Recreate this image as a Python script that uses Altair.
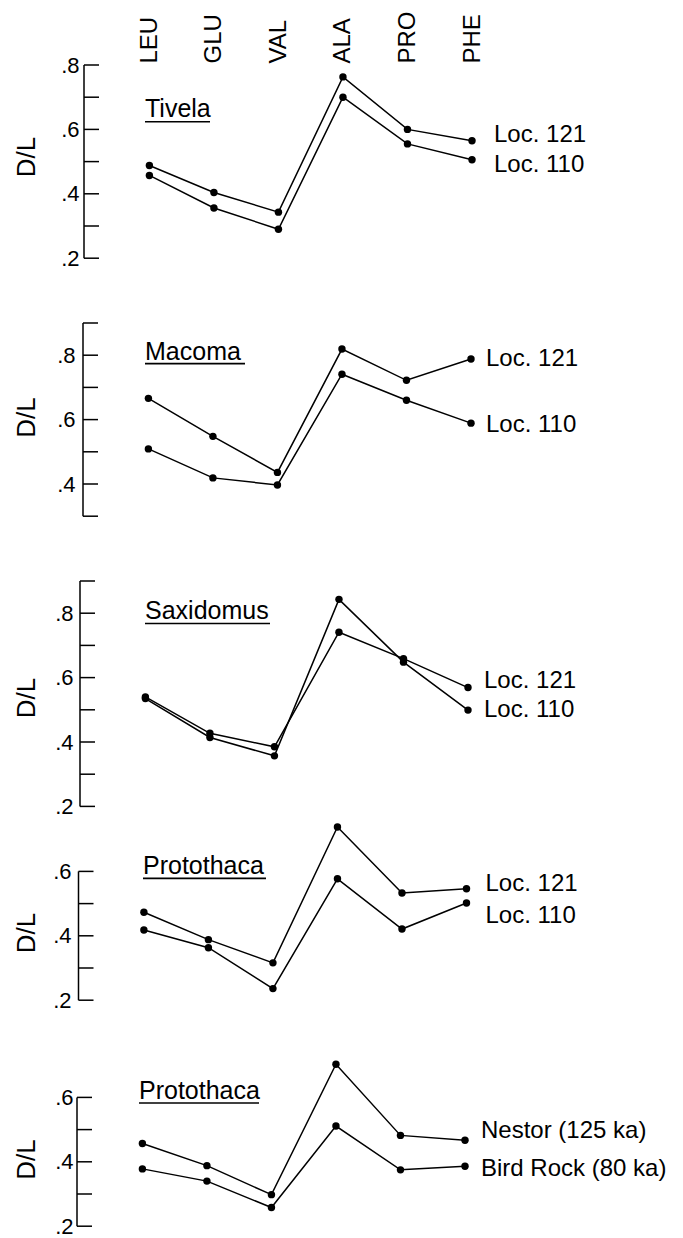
import altair as alt
import pandas as pd

AMINO = ["LEU", "GLU", "VAL", "ALA", "PRO", "PHE"]

# D/L values, in AMINO order
tivela_121 = [0.488, 0.404, 0.343, 0.763, 0.600, 0.565]
tivela_110 = [0.457, 0.356, 0.290, 0.700, 0.555, 0.506]

macoma_121 = [0.666, 0.548, 0.436, 0.819, 0.722, 0.788]
macoma_110 = [0.509, 0.419, 0.397, 0.741, 0.660, 0.589]

saxidomus_121 = [0.540, 0.427, 0.385, 0.741, 0.659, 0.569]
saxidomus_110 = [0.535, 0.414, 0.357, 0.843, 0.648, 0.499]

protothaca_121 = [0.473, 0.388, 0.316, 0.738, 0.533, 0.546]
protothaca_110 = [0.418, 0.363, 0.236, 0.577, 0.421, 0.502]

nestor_125 = [0.457, 0.388, 0.298, 0.703, 0.482, 0.467]
birdrock_80 = [0.378, 0.340, 0.258, 0.511, 0.375, 0.386]

titles = ["Tivela", "Macoma", "Saxidomus", "Protothaca", "Protothaca"]
series_names = [
    ["Loc. 121", "Loc. 110"],
    ["Loc. 121", "Loc. 110"],
    ["Loc. 121", "Loc. 110"],
    ["Loc. 121", "Loc. 110"],
    ["Nestor (125 ka)", "Bird Rock (80 ka)"],
]
series_values = [
    [tivela_121, tivela_110],
    [macoma_121, macoma_110],
    [saxidomus_121, saxidomus_110],
    [protothaca_121, protothaca_110],
    [nestor_125, birdrock_80],
]
# axis extent, tick marks and labelled ticks for each panel
axis_span = [(0.2, 0.8), (0.3, 0.9), (0.2, 0.9), (0.2, 0.6), (0.2, 0.6)]
tick_values = [
    [0.2, 0.3, 0.4, 0.5, 0.6, 0.7, 0.8],
    [0.3, 0.4, 0.5, 0.6, 0.7, 0.8, 0.9],
    [0.2, 0.3, 0.4, 0.5, 0.6, 0.7, 0.8, 0.9],
    [0.2, 0.3, 0.4, 0.5, 0.6],
    [0.2, 0.3, 0.4, 0.5, 0.6],
]
label_values = [
    [0.2, 0.4, 0.6, 0.8],
    [0.4, 0.6, 0.8],
    [0.2, 0.4, 0.6, 0.8],
    [0.2, 0.4, 0.6],
    [0.2, 0.4, 0.6],
]

# ---- layout / style (pixels) ----
PX_PER_UNIT = 322
WIDTH = 420
domains = [(0.0, 0.8), (0.1, 0.9), (0.2, 0.9), (0.1, 0.8), (0.2, 0.8)]
shift = [0, -1, -4, -5.5, -7]
label_dx = [22, 15, 16, 19, 16]
label_dy = [(-6, 5), (0, 2), (-7, 0), (-5, 13), (-9, 3)]
title_x = [62, 62, 62, 60, 56]
title_w = [65, 100, 125, 123, 120]
title_base = [52, 36.6, 38.2, 67, 66]
underline_y = [56.7, 40.6, 42.5, 71.4, 70]
dl_title_y = [91.5, 94, 116.5, 125.5, 126]
tick_label_pad = [4, 8, 10, 12, 10]

FONT = "Liberation Sans"
INK = "black"


def panel(i):
    lo, hi = domains[i]
    height = round((hi - lo) * PX_PER_UNIT, 1)
    s = shift[i]
    ax = 1 + s
    rows = []
    for name, vals in zip(series_names[i], series_values[i]):
        for k, (aa, v) in enumerate(zip(AMINO, vals)):
            rows.append({"aa": aa, "series": name, "value": v, "idx": k})
    df = pd.DataFrame(rows)

    if i == 0:
        xaxis = alt.Axis(orient="top", labelAngle=270, domain=False, ticks=False,
                         tickSize=0, labelPadding=2, labelFontSize=24, labelFont=FONT,
                         labelColor=INK, title=None, grid=False)
    else:
        xaxis = None
    xscale = alt.Scale(type="point", domain=AMINO, range=[66.4 + s, 389 + s], padding=0)
    yscale = alt.Scale(domain=[lo, hi], nice=False, zero=False)
    yaxis = alt.Axis(values=label_values[i],
                     labelExpr="replace(format(datum.value, '.1f'), '0.', '.')",
                     domain=False, ticks=False, tickSize=0, grid=False,
                     labelPadding=tick_label_pad[i], labelFontSize=22, labelFont=FONT,
                     labelColor=INK, title="D/L", titleX=-57, titleY=dl_title_y[i],
                     titleAngle=270, titleAlign="center", titleBaseline="middle",
                     titleFontSize=26, titleFont=FONT, titleFontWeight="normal",
                     titleColor=INK)

    base = alt.Chart(df).encode(
        x=alt.X("aa:N", scale=xscale, axis=xaxis, sort=AMINO),
        y=alt.Y("value:Q", scale=yscale, axis=yaxis),
    )
    lines = base.mark_line(color=INK, strokeWidth=1.5).encode(
        detail="series:N", order="idx:Q")
    pts = base.mark_circle(color=INK, size=55, opacity=1)

    # hand-drawn style axis: vertical line with inward ticks
    span_df = pd.DataFrame({"lo": [axis_span[i][0]], "hi": [axis_span[i][1]]})
    vline = alt.Chart(span_df).mark_rule(color=INK, strokeWidth=1.5).encode(
        x=alt.value(ax), y=alt.Y("lo:Q"), y2="hi:Q")
    tick_df = pd.DataFrame({"t": tick_values[i]})
    ticks = alt.Chart(tick_df).mark_rule(color=INK, strokeWidth=1.5).encode(
        x=alt.value(ax), x2=alt.value(ax + 15), y=alt.Y("t:Q"))

    # species title with underline
    ttl = alt.Chart(pd.DataFrame({"t": [titles[i]]})).mark_text(
        align="left", baseline="alphabetic", fontSize=25, font=FONT, color=INK
    ).encode(text="t:N", x=alt.value(title_x[i]), y=alt.value(title_base[i]))
    uline = alt.Chart(pd.DataFrame({"t": [titles[i]]})).mark_rule(
        color=INK, strokeWidth=1.6).encode(
        x=alt.value(title_x[i]), x2=alt.value(title_x[i] + title_w[i]),
        y=alt.value(underline_y[i]))

    layers = [lines, pts, vline, ticks, ttl, uline]
    last = df[df["aa"] == "PHE"]
    for j, name in enumerate(series_names[i]):
        sub = last[last["series"] == name]
        lab = alt.Chart(sub).mark_text(
            align="left", baseline="middle", fontSize=24, font=FONT, color=INK,
            dx=label_dx[i], dy=label_dy[i][j]
        ).encode(x=alt.X("aa:N", sort=AMINO), y=alt.Y("value:Q"), text="series:N")
        layers.append(lab)

    return alt.layer(*layers).properties(width=WIDTH, height=height)


chart = alt.vconcat(*[panel(i) for i in range(5)], spacing=0, bounds="flush").configure_view(
    stroke=None).properties(padding={"left": 5, "top": 2, "right": 0, "bottom": 12})

chart.save("out.html", embed_options={"renderer": "svg", "actions": False})
